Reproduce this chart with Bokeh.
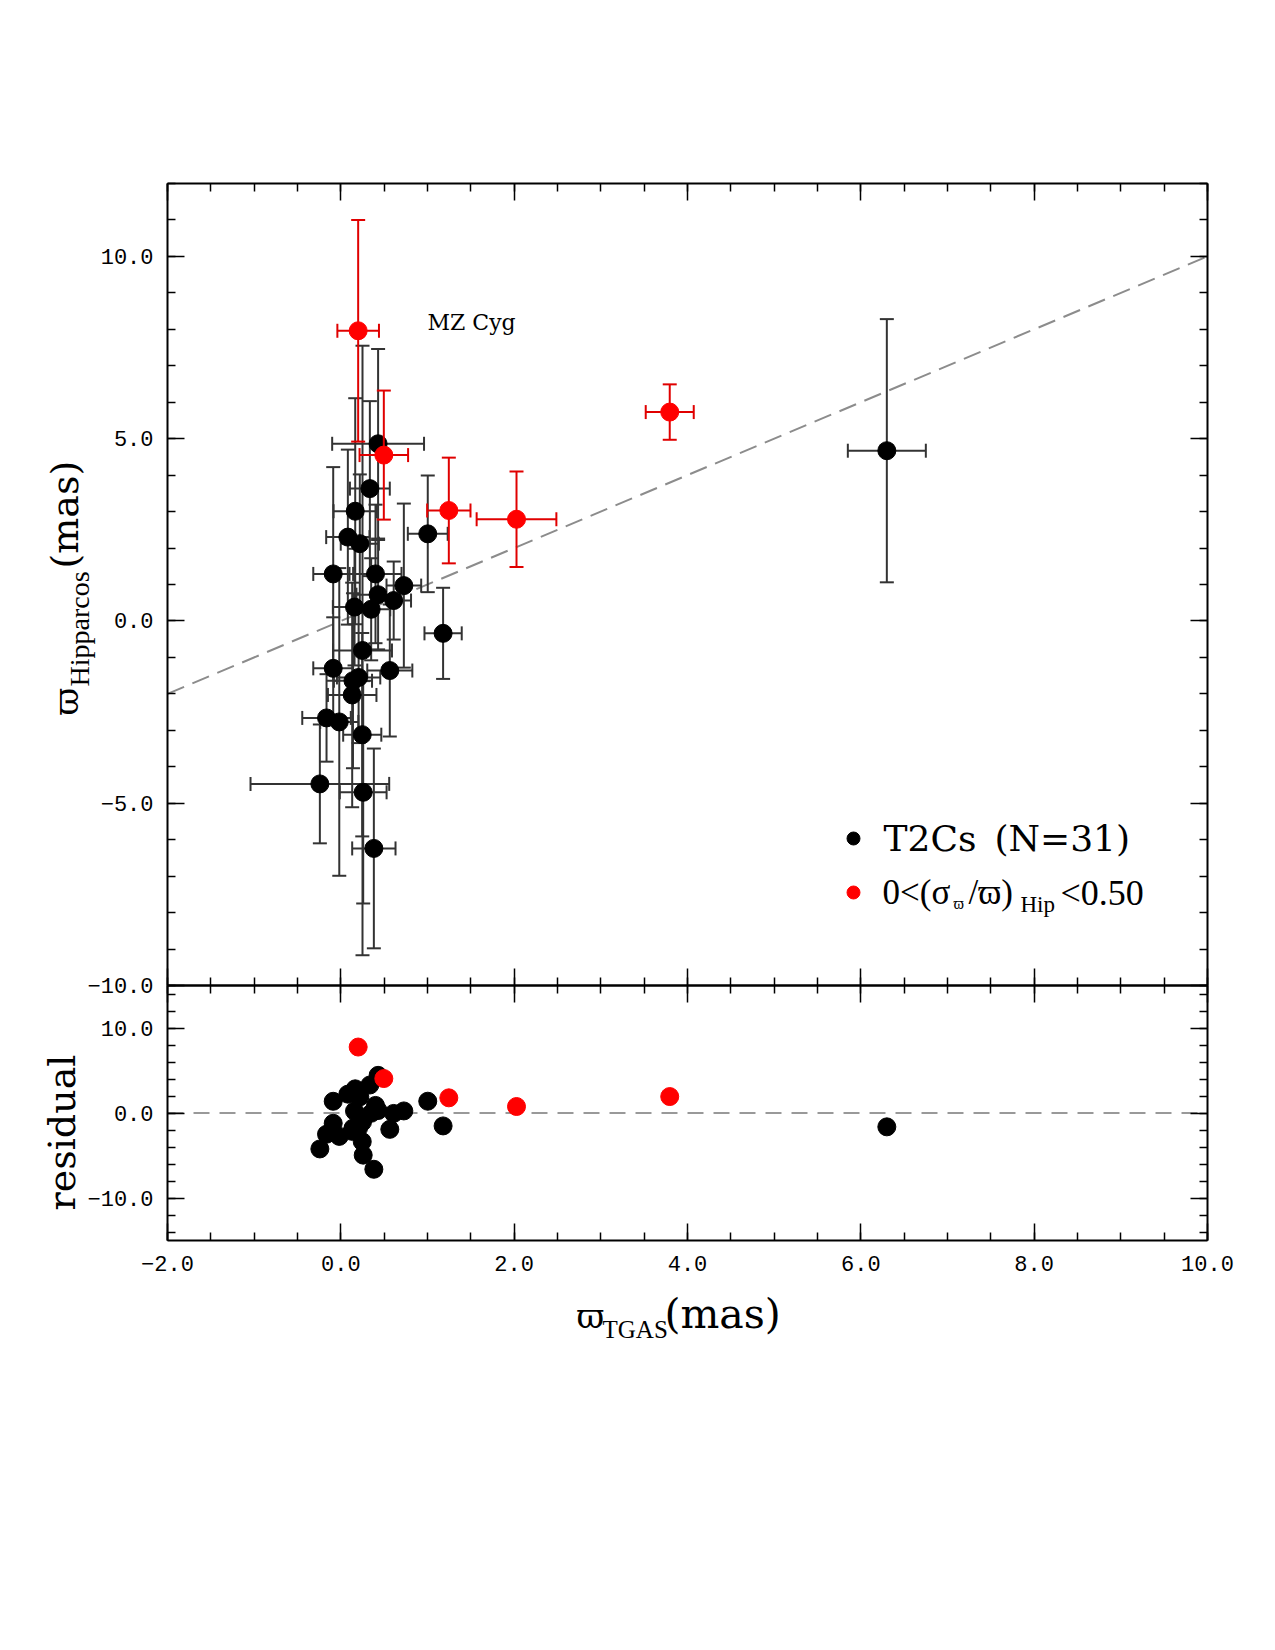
import numpy as np
from bokeh.plotting import figure
from bokeh.models import (Range1d, LinearAxis, FixedTicker, CustomJSTickFormatter, Label)
from bokeh.embed import file_html
from bokeh.resources import INLINE

# ---------------- data ----------------
# all T2Cs (black)
black_tgas = [0.43, 0.335, 0.166, 0.081, 0.219, 1.003, -0.088, 0.40, 0.727, 0.43,
              0.61, 0.158, 0.35, 1.18, 0.25, -0.088, 0.565, 0.205, 0.14, 0.131,
              -0.165, -0.018, 0.247, -0.242, 0.258, 0.381, 6.30]
black_tgas_err = [0.53, 0.23, 0.25, 0.25, 0.22, 0.23, 0.23, 0.30, 0.20, 0.25,
                  0.20, 0.25, 0.22, 0.215, 0.34, 0.23, 0.26, 0.25, 0.22, 0.28,
                  0.28, 0.22, 0.22, 0.80, 0.27, 0.25, 0.45]
black_hip = [4.86, 3.63, 3.01, 2.30, 2.12, 2.39, 1.29, 1.29, 0.97, 0.72,
             0.56, 0.38, 0.32, -0.34, -0.81, -1.30, -1.36, -1.55, -1.64, -2.03,
             -2.66, -2.77, -3.12, -4.47, -4.70, -6.24, 4.67]
black_hip_err = [2.6, 2.4, 3.1, 2.4, 1.9, 1.6, 2.93, 1.9, 2.25, 1.5,
                 1.07, 1.6, 1.4, 1.25, 8.36, 1.4, 1.81, 1.8, 2.4, 3.08,
                 1.2, 4.22, 2.79, 1.63, 3.05, 2.74, 3.61]

# 0 < (sigma/varpi)_Hip < 0.50 (red)
red_tgas = [0.20, 0.496, 1.246, 2.027, 3.795]
red_tgas_err = [0.24, 0.28, 0.25, 0.46, 0.277]
red_hip = [7.96, 4.55, 3.03, 2.79, 5.73]
red_hip_err = [3.04, 1.77, 1.45, 1.31, 0.76]

x_major = [-2, 0, 2, 4, 6, 8, 10]
y1_major = [-10, -5, 0, 5, 10]
y2_major = [-10, 0, 10]

# ---------------- geometry (pixels on the 1275x1650 page) ----------------
W, H = 1275, 1650
FL, FR = 167, 1207
TT, TB = 183, 985
BB = 1240
XR = (-2.0, 10.0)
Y1 = (-10.0, 12.0)
Y2 = (-15.0, 15.0)


def px2x(px):
    return XR[0] + (px - FL) * (XR[1] - XR[0]) / (FR - FL)


def py2y1(py):
    return Y1[1] - (py - TT) * (Y1[1] - Y1[0]) / (TB - TT)


def py2y2(py):
    return Y2[1] - (py - TB) * (Y2[1] - Y2[0]) / (BB - TB)


p = figure(width=W, height=H,
           x_range=Range1d(px2x(0), px2x(W)),
           y_range=Range1d(py2y1(H), py2y1(0)),
           output_backend="svg", toolbar_location=None,
           x_axis_location=None, y_axis_location=None,
           min_border=0, min_border_left=0, min_border_right=0,
           min_border_top=0, min_border_bottom=0)
p.extra_y_ranges = {"res": Range1d(py2y2(H), py2y2(0))}
p.grid.visible = False
p.outline_line_color = None
p.background_fill_color = "white"
p.border_fill_color = "white"

fmt = CustomJSTickFormatter(code="return tick.toFixed(1).replace('-', '\u2212');")
TICK_FONT = "Liberation Mono"


def add_axis(side, ticks, minor, show, loc, bounds, yname="default"):
    ax = LinearAxis(ticker=FixedTicker(ticks=ticks, minor_ticks=minor),
                    fixed_location=loc, bounds=bounds, y_range_name=yname)
    ax.axis_line_width = 2
    ax.axis_line_color = "black"
    ax.major_tick_in = 17
    ax.major_tick_out = 0
    ax.minor_tick_in = 8
    ax.minor_tick_out = 0
    ax.major_tick_line_width = 1.5
    ax.minor_tick_line_width = 1.5
    ax.major_tick_line_color = "black"
    ax.minor_tick_line_color = "black"
    if show:
        ax.formatter = fmt
        ax.major_label_text_font = TICK_FONT
        ax.major_label_text_font_size = "22px"
        ax.major_label_text_color = "black"
        ax.major_label_standoff = 14 if side == "left" else 15
    else:
        ax.major_label_text_font_size = "0px"
        ax.major_label_standoff = 0
        ax.major_label_overrides = {t: "" for t in ticks}
    p.add_layout(ax, side)
    return ax


x_minor = list(np.arange(-2.0, 10.01, 0.5))
y1_minor = list(range(-10, 13))
y2_minor = list(range(-14, 15, 2))

# top panel frame / ticks
add_axis("left", y1_major, y1_minor, True, XR[0], Y1)
add_axis("right", y1_major, y1_minor, False, XR[1], Y1)
add_axis("above", x_major, x_minor, False, Y1[1], XR)
add_axis("below", x_major, x_minor, False, Y1[0], XR)
# residual panel frame / ticks
add_axis("left", y2_major, y2_minor, True, XR[0], Y2, "res")
add_axis("right", y2_major, y2_minor, False, XR[1], Y2, "res")
add_axis("above", x_major, x_minor, False, Y2[1], XR, "res")
add_axis("below", x_major, x_minor, True, Y2[0], XR, "res")

# one-to-one line
p.line(x=list(XR), y=list(XR), line_color="#8c8c8c", line_width=2, line_dash="18 9")


def draw_errors(xs, xe, ys, ye, color):
    xs = np.array(xs); xe = np.array(xe); ys = np.array(ys); ye = np.array(ye)
    p.segment(x0=xs, y0=ys - ye, x1=xs, y1=ys + ye, line_color=color, line_width=2)
    p.segment(x0=xs - xe, y0=ys, x1=xs + xe, y1=ys, line_color=color, line_width=2)
    p.scatter(x=np.concatenate([xs, xs]), y=np.concatenate([ys - ye, ys + ye]),
              marker="dash", size=14, line_color=color, line_width=2)
    p.scatter(x=np.concatenate([xs - xe, xs + xe]), y=np.concatenate([ys, ys]),
              marker="dash", angle=np.pi / 2, size=14, line_color=color, line_width=2)


draw_errors(black_tgas, black_tgas_err, black_hip, black_hip_err, "#333333")
p.scatter(x=black_tgas, y=black_hip, size=18, fill_color="black", line_color="black")
draw_errors(red_tgas, red_tgas_err, red_hip, red_hip_err, "#e00000")
p.scatter(x=red_tgas, y=red_hip, size=18, fill_color="#ff0000", line_color="#ff0000")

# residual panel
resid_black = list(np.array(black_hip) - np.array(black_tgas))
resid_red = list(np.array(red_hip) - np.array(red_tgas))
p.line(x=list(XR), y=[0, 0], y_range_name="res", line_color="#999999",
       line_width=2, line_dash="16 10")
p.scatter(x=black_tgas, y=resid_black, y_range_name="res", size=18,
          fill_color="black", line_color="black")
p.scatter(x=red_tgas, y=resid_red, y_range_name="res", size=18,
          fill_color="#ff0000", line_color="#ff0000")


def lab(xpx, ypx, text, font, size, angle=0.0, align="left"):
    p.add_layout(Label(x=px2x(xpx), y=py2y1(ypx), text=text, text_font=font,
                       text_font_size=size, text_color="black", angle=angle,
                       text_align=align, text_baseline="middle"))


lab(427, 322, "MZ Cyg", "DejaVu Serif", "22px")

# legend
leg_x = [px2x(853), px2x(853)]
leg_y = [py2y1(838), py2y1(892)]
p.scatter(x=leg_x, y=leg_y, size=13, fill_color=["black", "#ff0000"],
          line_color=["black", "#ff0000"])
lab(883, 838, "T2Cs\u2002(N=31)", "DejaVu Serif", "36px")
lab(882, 892, "0<(\u03c3", "Liberation Serif", "35px")
lab(953, 903, "\u03d6", "Liberation Serif", "16px")
lab(968, 892, "/\u03d6)", "Liberation Serif", "35px")
lab(1020, 904, "Hip", "Liberation Serif", "23px")
lab(1060, 892, "<0.50", "Liberation Serif", "36px")

# y axis title of the top panel (rotated)
lab(65, 715, "\u03d6", "DejaVu Serif", "34px", angle=np.pi / 2)
lab(79, 686, "Hipparcos", "Liberation Serif", "28px", angle=np.pi / 2)
lab(64, 568, "(mas)", "DejaVu Serif", "38px", angle=np.pi / 2)

# y axis title of the residual panel
lab(61, 1132, "residual", "DejaVu Serif", "38px", angle=np.pi / 2, align="center")

# x axis title
lab(576, 1315, "\u03d6", "DejaVu Serif", "34px")
lab(602, 1329, "TGAS", "Liberation Serif", "25px")
lab(664, 1313, "(mas)", "DejaVu Serif", "41px")

open("out.html", "w").write(file_html(p, INLINE))
